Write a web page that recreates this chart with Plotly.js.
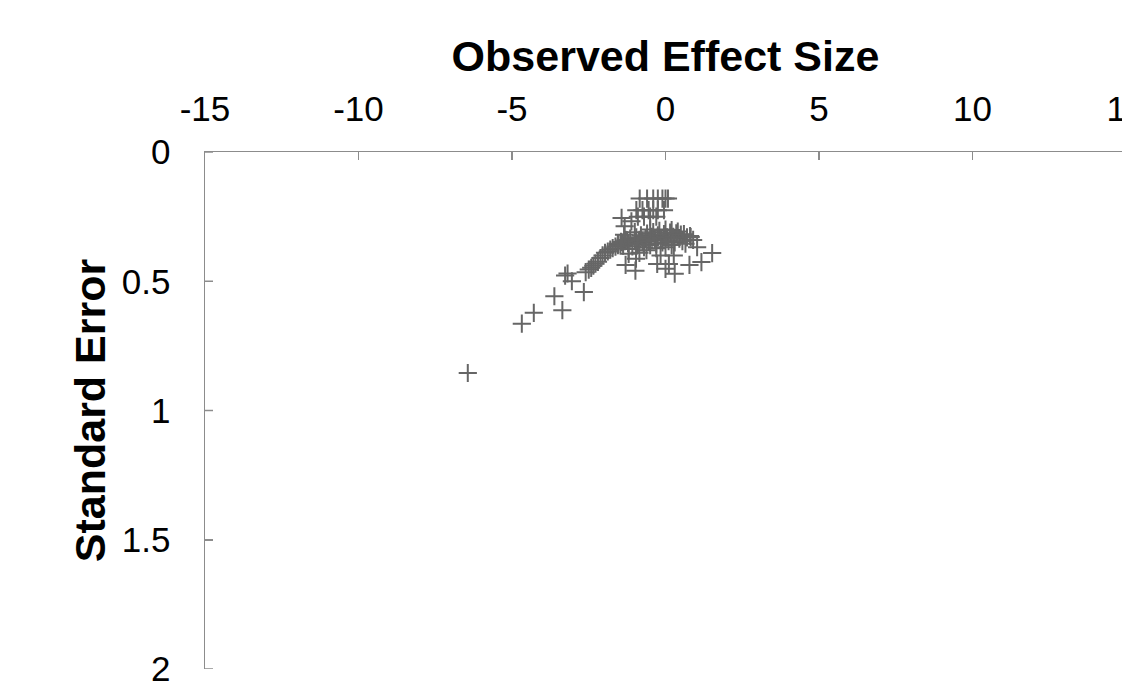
<!DOCTYPE html>
<html>
<head>
<meta charset="utf-8">
<script src="https://cdn.plot.ly/plotly-3.0.1.min.js"></script>
<style>
html,body{margin:0;padding:0;overflow:hidden;background:#fff;}
#chart{width:1150px;height:700px;}
</style>
</head>
<body>
<div id="chart"></div>
<script>
// Observed effect size (x) and standard error (y)
const effectSize = [
  -6.44,-4.68,-4.29,-3.62,-3.36,-3.27,-3.19,-3.05,-2.66,-2.60,
  -2.50,-2.42,-2.35,-2.28,-2.20,-2.12,-2.05,-1.97,-1.88,-1.80,-1.72,-1.63,-1.55,-1.47,-1.40,-1.32,-1.25,
  -0.84,-0.60,-0.40,-0.25,-0.10,0.00,0.08,
  -0.95,-0.75,-0.55,-0.40,-0.25,-0.05,
  -1.43,-1.33,-1.11,-0.90,-0.70,-0.50,-0.30,
  -1.55,-1.45,-1.38,-1.30,-1.22,-1.15,-1.08,-1.00,-0.95,-0.90,-0.85,-0.80,-0.75,-0.70,-0.65,-0.60,-0.55,-0.50,-0.45,-0.40,-0.35,-0.30,-0.25,-0.20,-0.15,-0.10,-0.05,0.00,0.05,0.10,0.15,0.20,0.25,0.30,0.35,0.40,0.45,0.50,0.55,0.60,0.70,0.80,0.90,-0.62,-0.30,0.00,-1.20,-0.85,0.20,-0.50,-1.00,-1.35,
  1.52,1.03,1.17,0.78,0.27,0.30,0.11,-0.27,-0.16,-0.98,-1.30,-0.96,-1.20,0.82,0.65,0.00
];
const standardError = [
  0.855,0.664,0.622,0.558,0.612,0.478,0.470,0.500,0.542,0.465,
  0.455,0.448,0.440,0.432,0.425,0.410,0.400,0.390,0.385,0.378,0.372,0.366,0.360,0.356,0.350,0.345,0.342,
  0.180,0.180,0.180,0.180,0.180,0.180,0.180,
  0.225,0.225,0.225,0.225,0.225,0.225,
  0.255,0.287,0.268,0.250,0.250,0.250,0.250,
  0.355,0.348,0.362,0.340,0.352,0.335,0.365,0.345,0.330,0.358,0.340,0.322,0.350,0.368,0.333,0.316,0.345,0.360,0.328,0.310,0.340,0.355,0.322,0.305,0.335,0.350,0.318,0.300,0.330,0.345,0.312,0.302,0.328,0.350,0.315,0.308,0.335,0.320,0.345,0.318,0.330,0.325,0.340,0.380,0.372,0.368,0.375,0.390,0.360,0.300,0.310,0.320,
  0.391,0.368,0.426,0.437,0.400,0.471,0.433,0.433,0.400,0.459,0.437,0.413,0.394,0.329,0.355,0.452
];
const xTicks = [-15,-10,-5,0,5,10,15];
const xTickText = ['-15','-10','-5','0','5','10','15'];
const yTicks = [0,0.5,1,1.5,2];
const yTickText = ['0','0.5','1','1.5','2'];

const font = 'Arial, "Liberation Sans", sans-serif';
const axisGrey = '#8c8c8c';

// short inward tick marks on the y axis (at the y tick values)
const yTickShapes = yTicks.map(v => ({
  type: 'line', xref: 'paper', yref: 'y',
  x0: 0, x1: 8 / 921, y0: v, y1: v,
  line: {color: axisGrey, width: 1.5}
}));

Plotly.newPlot('chart', [{
  type: 'scatter',
  mode: 'markers',
  x: effectSize,
  y: standardError,
  marker: {
    symbol: 'cross-thin-open',
    size: 13,
    color: '#666666',
    line: {color: '#666666', width: 2}
  },
  hoverinfo: 'x+y'
}], {
  width: 1150,
  height: 700,
  margin: {l: 205, r: 24, t: 152, b: 31},
  paper_bgcolor: '#ffffff',
  plot_bgcolor: '#ffffff',
  showlegend: false,
  font: {family: font, color: '#000000'},
  shapes: yTickShapes,
  xaxis: {
    side: 'top',
    range: [-15, 15],
    tickmode: 'array',
    tickvals: xTicks,
    ticktext: xTickText,
    ticks: 'inside',
    ticklen: 8,
    tickwidth: 1.5,
    tickcolor: axisGrey,
    showline: true,
    linecolor: axisGrey,
    linewidth: 1.5,
    showgrid: false,
    zeroline: false,
    tickfont: {family: font, size: 35, color: '#000000'},
    ticklabelstandoff: 16,
    ticklabeloverflow: 'allow',
    title: {text: '<b>Observed Effect Size</b>', font: {family: font, size: 43, color: '#000000'}, standoff: 3}
  },
  yaxis: {
    range: [2, 0],
    tickmode: 'array',
    tickvals: yTicks,
    ticktext: yTickText,
    ticks: 'inside',
    ticklen: 8,
    tickwidth: 1.5,
    tickcolor: axisGrey,
    showline: true,
    linecolor: axisGrey,
    linewidth: 1.5,
    showgrid: false,
    zeroline: false,
    tickfont: {family: font, size: 35, color: '#000000'},
    ticklabelstandoff: 26,
    ticklabeloverflow: 'allow',
    title: {text: '<b>Standard Error</b>', font: {family: font, size: 43, color: '#000000'}, standoff: 3}
  }
}, {displayModeBar: false, staticPlot: true});
</script>
</body>
</html>
